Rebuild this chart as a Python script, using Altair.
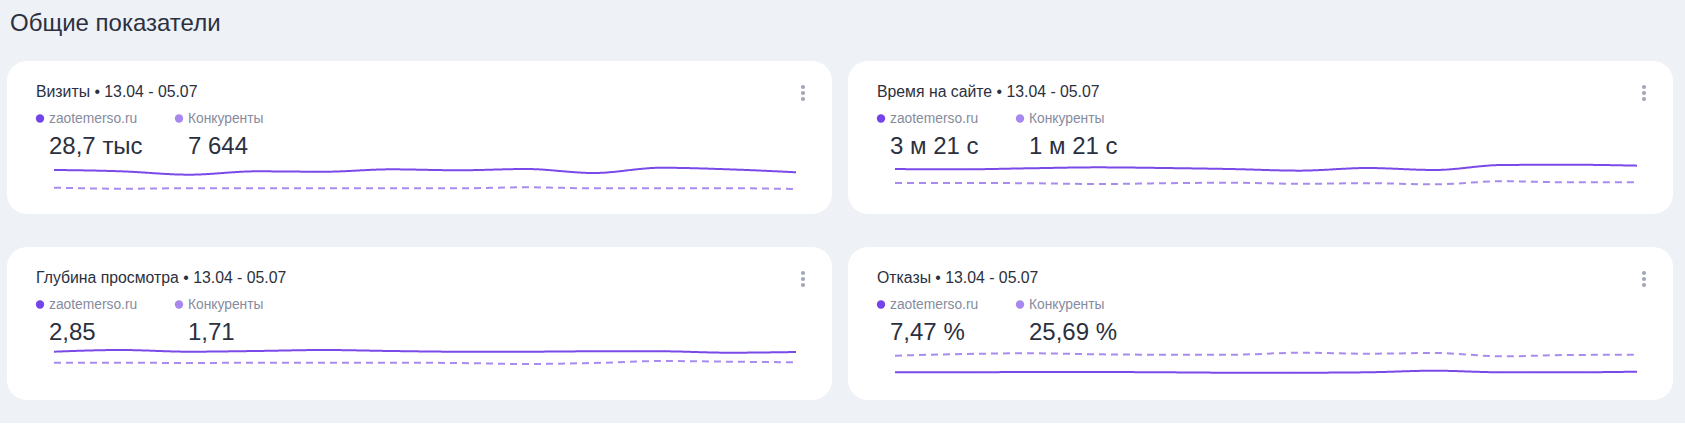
import altair as alt
import pandas as pd

FONT = "Liberation Sans"

weeks = ["13.04", "20.04", "27.04", "04.05", "11.05", "18.05",
         "25.05", "01.06", "08.06", "15.06", "22.06", "29.06"]

titles = ["Визиты • 13.04 - 05.07", "Время на сайте • 13.04 - 05.07",
          "Глубина просмотра • 13.04 - 05.07", "Отказы • 13.04 - 05.07"]
site_totals = ["28,7 тыс", "3 м 21 с", "2,85", "7,47 %"]
comp_totals = ["7 644", "1 м 21 с", "1,71", "25,69 %"]
series_names = ["zaotemerso.ru", "Конкуренты"]

visits_site = [2290, 2160, 1840, 2160, 2120, 2350, 2260, 2380, 2000, 2500, 2350, 2070]
visits_comp = [600, 505, 545, 545, 545, 545, 545, 640, 545, 545, 545, 480]
time_site = [190, 188, 196, 203, 198, 190, 178, 198, 183, 221, 223, 216]
time_comp = [84, 84, 82, 76, 82, 86, 78, 82, 74, 97, 89, 89]
depth_site = [2.83, 3.00, 2.83, 2.90, 3.00, 2.90, 2.83, 2.83, 2.87, 2.87, 2.73, 2.80]
depth_comp = [1.73, 1.73, 1.70, 1.73, 1.73, 1.73, 1.70, 1.60, 1.70, 1.90, 1.83, 1.77]
bounce_site = [7.7, 7.7, 8.0, 8.0, 7.7, 7.3, 7.3, 7.7, 9.3, 7.7, 7.7, 8.3]
bounce_comp = [24.3, 26.0, 26.7, 25.7, 25.3, 25.3, 27.3, 26.3, 27.0, 23.7, 25.0, 25.3]

scale_max = [4000, 320, 4.2, 42]

SOLID = "#7a4ae8"
DASHED = "#a98bf0"
DOT1 = "#7444ea"
DOT2 = "#a887ef"
TEXT = "#2b3040"
GREY = "#868b9e"
KEBAB = "#a2a7ba"
BG = "#eef1f6"

CW, CH = 825, 153


def card(idx, site, comp):
    rows = []
    for i, w in enumerate(weeks):
        rows.append({"i": i, "week": w, "value": site[i], "series": series_names[0]})
        rows.append({"i": i, "week": w, "value": comp[i], "series": series_names[1]})
    df = pd.DataFrame(rows)
    base = alt.Chart(df)
    lines = base.mark_line(strokeWidth=2, interpolate="monotone").encode(
        x=alt.X("i:Q", axis=None, scale=alt.Scale(domain=[0, 11], range=[47, 789], nice=False, zero=False)),
        y=alt.Y("value:Q", axis=None, scale=alt.Scale(domain=[0, scale_max[idx]], range=[133, 91], nice=False)),
        color=alt.Color("series:N", legend=None,
                        scale=alt.Scale(domain=series_names, range=[SOLID, DASHED])),
        strokeDash=alt.StrokeDash("series:N", legend=None,
                                  scale=alt.Scale(domain=series_names, range=[[1, 0], [7, 5]])),
        detail="series:N",
    )
    tdf = pd.DataFrame({"t": [titles[idx]]})
    title = alt.Chart(tdf).mark_text(align="left", baseline="alphabetic", font=FONT,
                                     fontSize=15.8, color=TEXT).encode(
        text="t:N", x=alt.value(29), y=alt.value(36))
    ldf = pd.DataFrame({"s": series_names, "n": [site_totals[idx], comp_totals[idx]],
                        "lx": [42, 181], "dx": [33, 172]})
    ltext = alt.Chart(ldf).mark_text(align="left", baseline="alphabetic", font=FONT,
                                     fontSize=13.8, color=GREY).encode(
        text="s:N", x=alt.X("lx:Q", scale=None), y=alt.value(62))
    ldots = alt.Chart(ldf).mark_circle(size=70, opacity=1).encode(
        x=alt.X("dx:Q", scale=None), y=alt.value(57.5),
        color=alt.Color("s:N", legend=None, scale=alt.Scale(domain=series_names, range=[DOT1, DOT2])))
    nums = alt.Chart(ldf).mark_text(align="left", baseline="alphabetic", font=FONT,
                                    fontSize=24, color=TEXT).encode(
        text="n:N", x=alt.X("lx:Q", scale=None), y=alt.value(93))
    kdf = pd.DataFrame({"ky": [26, 32, 38]})
    kebab = alt.Chart(kdf).mark_circle(size=18, color=KEBAB, opacity=1).encode(
        x=alt.value(796), y=alt.Y("ky:Q", scale=None))
    return alt.layer(lines, title, ltext, ldots, nums, kebab).resolve_scale(
        color="independent").properties(width=CW, height=CH)


c1 = card(0, visits_site, visits_comp)
c2 = card(1, time_site, time_comp)
c3 = card(2, depth_site, depth_comp)
c4 = card(3, bounce_site, bounce_comp)

chart = alt.vconcat(
    alt.hconcat(c1, c2, spacing=16),
    alt.hconcat(c3, c4, spacing=16),
    spacing=33,
).properties(
    title=alt.TitleParams("Общие показатели", anchor="start", fontSize=24, font=FONT,
                          fontWeight="normal", color=TEXT, offset=25, dx=3, baseline="top"),
    padding={"left": 7, "top": 12, "right": 12, "bottom": 23},
    background=BG,
).configure_view(fill="white", stroke=None, cornerRadius=20)

chart.save("out.html", embed_options={"renderer": "svg", "actions": False})
